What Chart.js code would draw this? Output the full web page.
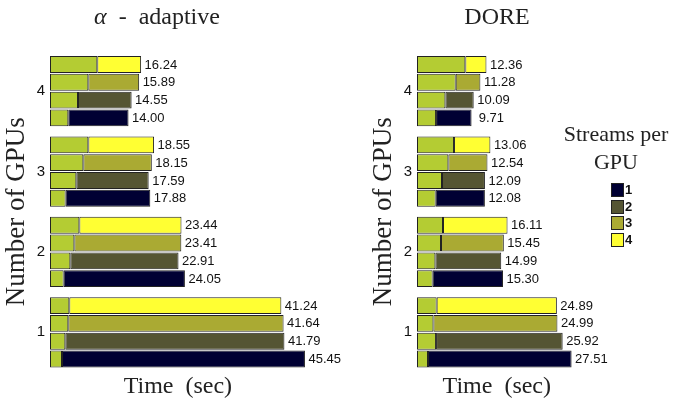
<!DOCTYPE html>
<html>
<head>
<meta charset="utf-8">
<script src="https://cdn.jsdelivr.net/npm/chart.js@4/dist/chart.umd.min.js"></script>
<style>
  html, body { margin: 0; padding: 0; background: #fff; }
  #wrap { position: relative; width: 673px; height: 403px; overflow: hidden; }
  #wrap canvas { position: absolute; top: 0; }
  .ttl { position: absolute; top: 2px; width: 300px; text-align: center;
         font-family: "Liberation Serif", serif; font-size: 24px; line-height: 28px;
         color: #222; white-space: pre; }
  #legend { position: absolute; left: 540px; top: 120px; width: 150px; }
  #legend .lt { font-family: "Liberation Serif", serif; font-size: 22px; line-height: 28px;
                color: #222; text-align: center; width: 152px; }
  #legend .items { position: absolute; left: 71px; top: 63px; }
  #legend .it { position: relative; height: 16.6px; }
  #legend .sw { position: absolute; left: 0; top: 0; width: 11px; height: 12px; border: 1px solid #222; }
  #legend .lb { position: absolute; left: 14px; top: -1px; font-family: "Liberation Sans", Arial, sans-serif;
                font-weight: bold; font-size: 13px; line-height: 15px; color: #111; }
</style>
</head>
<body>
<div id="wrap">
  <canvas id="cAdaptive" width="355" height="403" style="left:0"></canvas>
  <canvas id="cDore" width="250" height="403" style="left:367px"></canvas>
  <div class="ttl" style="left:7px"><i>α</i>  -  adaptive</div>
  <div class="ttl" style="left:347px">DORE</div>
  <div id="legend">
    <div class="lt">Streams per<br>GPU</div>
    <div class="items" id="legendItems"></div>
  </div>
</div>
<script>
// GPU counts, listed top to bottom
const gpuLabels = ['4', '3', '2', '1'];
// streams per GPU, bar order inside each group (top to bottom)
const streamOrder = [4, 3, 2, 1];

// α-adaptive: total time (sec) per GPU count, one array per streams-per-GPU
const adaptiveTotal1 = [14.00, 17.88, 24.05, 45.45];
const adaptiveTotal2 = [14.55, 17.59, 22.91, 41.79];
const adaptiveTotal3 = [15.89, 18.15, 23.41, 41.64];
const adaptiveTotal4 = [16.24, 18.55, 23.44, 41.24];
// α-adaptive: leading (light green) part of each bar
const adaptiveLead1 = [3.26, 2.79, 2.44, 2.14];
const adaptiveLead2 = [4.99, 4.69, 3.62, 2.73];
const adaptiveLead3 = [6.83, 5.94, 4.34, 3.26];
const adaptiveLead4 = [8.43, 6.83, 5.23, 3.44];

// DORE: total time (sec)
const doreTotal1 = [9.71, 12.08, 15.30, 27.51];
const doreTotal2 = [10.09, 12.09, 14.99, 25.92];
const doreTotal3 = [11.28, 12.54, 15.45, 24.99];
const doreTotal4 = [12.36, 13.06, 16.11, 24.89];
// DORE: leading (light green) part of each bar
const doreLead1 = [3.39, 3.33, 2.79, 1.96];
const doreLead2 = [5.05, 4.45, 3.27, 3.39];
const doreLead3 = [6.89, 5.58, 4.27, 2.92];
const doreLead4 = [8.60, 6.59, 4.63, 3.50];

const streamColors = { 1: '#000033', 2: '#555533', 3: '#aaaa33', 4: '#ffff33' };
const leadColor = '#b4cc33';
const edgeColor = '#222222';

function buildDatasets(totals, leads) {
  const ds = [];
  streamOrder.forEach(s => {
    ds.push({
      label: 'lead ' + s, stack: 's' + s, data: leads[s],
      backgroundColor: leadColor, borderColor: edgeColor, borderWidth: 1, borderSkipped: false
    });
    ds.push({
      label: String(s), stack: 's' + s,
      data: totals[s].map((t, i) => +(t - leads[s][i]).toFixed(2)),
      totals: totals[s],
      backgroundColor: streamColors[s], borderColor: edgeColor, borderWidth: 1, borderSkipped: false
    });
  });
  return ds;
}

// writes the total time just past the end of each bar
const totalLabels = {
  id: 'totalLabels',
  afterDatasetsDraw(chart) {
    const ctx = chart.ctx;
    ctx.save();
    ctx.font = '13px "Liberation Sans", Arial, sans-serif';
    ctx.fillStyle = '#111';
    ctx.textAlign = 'left';
    ctx.textBaseline = 'middle';
    chart.data.datasets.forEach((d, i) => {
      if (!d.totals) return;
      chart.getDatasetMeta(i).data.forEach((bar, j) => {
        ctx.fillText(d.totals[j].toFixed(2).padStart(5, ' '), bar.x + 3.5, bar.y + 0.5);
      });
    });
    ctx.restore();
  }
};

function panelOptions(xMax, padRight) {
  return {
    indexAxis: 'y',
    responsive: false,
    animation: false,
    layout: { padding: { top: 51, right: padRight, bottom: 0, left: 0 } },
    plugins: { legend: { display: false }, tooltip: { enabled: false } },
    datasets: { bar: { categoryPercentage: 0.885, barPercentage: 0.95 } },
    scales: {
      x: {
        stacked: true, min: 0, max: xMax,
        grid: { display: false, drawTicks: false },
        border: { display: false },
        ticks: { display: false },
        title: {
          display: true, text: 'Time  (sec)', color: '#222',
          font: { family: '"Liberation Serif", serif', size: 24 },
          padding: { top: 0, bottom: 2 }
        },
        afterFit(s) { s.height = 30.5; }
      },
      y: {
        grid: { display: false, drawTicks: false },
        border: { display: false },
        ticks: { color: '#111', padding: 5, font: { family: '"Liberation Sans", Arial, sans-serif', size: 15 } },
        title: {
          display: true, text: 'Number of GPUs', color: '#222',
          font: { family: '"Liberation Serif", serif', size: 27 },
          padding: { top: 1, bottom: 0 }
        },
        afterFit(s) { s.width = 50; }
      }
    }
  };
}

new Chart(document.getElementById('cAdaptive'), {
  type: 'bar',
  data: {
    labels: gpuLabels,
    datasets: buildDatasets(
      { 1: adaptiveTotal1, 2: adaptiveTotal2, 3: adaptiveTotal3, 4: adaptiveTotal4 },
      { 1: adaptiveLead1, 2: adaptiveLead2, 3: adaptiveLead3, 4: adaptiveLead4 })
  },
  options: panelOptions(45.6, 49.2),
  plugins: [totalLabels]
});

new Chart(document.getElementById('cDore'), {
  type: 'bar',
  data: {
    labels: gpuLabels,
    datasets: buildDatasets(
      { 1: doreTotal1, 2: doreTotal2, 3: doreTotal3, 4: doreTotal4 },
      { 1: doreLead1, 2: doreLead2, 3: doreLead3, 4: doreLead4 })
  },
  options: panelOptions(28.4, 40.4),
  plugins: [totalLabels]
});

// legend entries for the streams-per-GPU colours
const legendItems = document.getElementById('legendItems');
[1, 2, 3, 4].forEach(s => {
  const it = document.createElement('div');
  it.className = 'it';
  it.innerHTML = '<div class="sw" style="background:' + streamColors[s] + '"></div><div class="lb">' + s + '</div>';
  legendItems.appendChild(it);
});
</script>
</body>
</html>
